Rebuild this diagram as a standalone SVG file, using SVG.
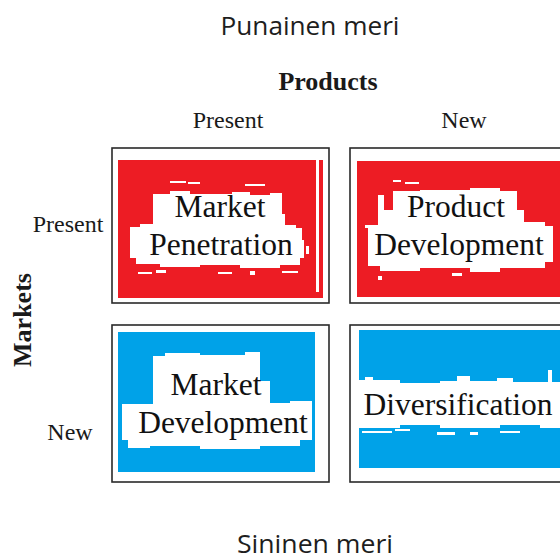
<svg xmlns="http://www.w3.org/2000/svg" width="560" height="560" viewBox="0 0 560 560">
  <style>
    .cap { font-family: "Open Sans", "Noto Sans", sans-serif; font-size: 25px; fill: #1e1e1e; text-anchor: middle; }
    .axis { font-family: "Liberation Serif", "Times New Roman", serif; font-size: 24px; fill: #1a1a1a; text-anchor: middle; }
    .axis-title { font-family: "Liberation Serif", "Times New Roman", serif; font-size: 26px; font-weight: bold; fill: #1a1a1a; text-anchor: middle; }
    .label { font-family: "Liberation Serif", "Times New Roman", serif; font-size: 31.5px; fill: #111; text-anchor: middle; }
    .frame { fill: #ffffff; stroke: #2a2a2a; stroke-width: 1.6; }
    .red { fill: #ed1c24; }
    .blue { fill: #00a2e8; }
    .hole { fill: #ffffff; }
  </style>

  <rect width="560" height="560" fill="#ffffff"/>

  <!-- headings -->
  <text class="cap" x="310" y="35" textLength="179" lengthAdjust="spacingAndGlyphs">Punainen meri</text>
  <text class="cap" x="315" y="553" textLength="156" lengthAdjust="spacingAndGlyphs">Sininen meri</text>

  <!-- axis labels -->
  <text class="axis-title" x="328" y="90">Products</text>
  <text class="axis" x="228" y="128">Present</text>
  <text class="axis" x="464" y="128">New</text>
  <text class="axis" x="68" y="232">Present</text>
  <text class="axis" x="70" y="440">New</text>
  <text class="axis-title" transform="translate(31 320) rotate(-90)">Markets</text>

  <!-- connectors: none in this matrix -->
  <g id="connectors"/>

  <!-- Market Penetration -->
  <g id="market-penetration">
    <rect class="frame" x="112" y="148" width="217" height="155"/>
    <rect class="red" x="118" y="160" width="205" height="138"/>
    <rect class="hole" x="316" y="160" width="3" height="132"/>
    <path class="hole" d="M153 194 L170 194 L170 191 L190 191 L190 194 L232 194 L232 192 L250 192 L250 195 L270 195 L270 193 L282 193 L282 214 L285 214 L285 225 L296 225 L296 228 L302 228 L302 240 L304 240 L304 258 L300 258 L300 265 L280 265 L280 268 L240 268 L240 265 L200 265 L200 267 L160 267 L160 264 L136 264 L136 258 L130 258 L130 227 L140 227 L140 224 L153 224 Z"/>
    <rect class="hole" x="170" y="181" width="16" height="2"/>
    <rect class="hole" x="188" y="182" width="12" height="2"/>
    <rect class="hole" x="245" y="184" width="20" height="2"/>
    <rect class="hole" x="138" y="272" width="14" height="2"/>
    <rect class="hole" x="156" y="270" width="10" height="3"/>
    <rect class="hole" x="218" y="272" width="14" height="2"/>
    <rect class="hole" x="250" y="271" width="5" height="4"/>
    <rect class="hole" x="282" y="271" width="16" height="2"/>
    <rect class="hole" x="306" y="246" width="3" height="8"/>
    <text class="label" x="220" y="217">Market</text>
    <text class="label" x="221" y="255">Penetration</text>
  </g>

  <!-- Product Development -->
  <g id="product-development">
    <rect class="frame" x="350" y="148" width="220" height="155"/>
    <rect class="red" x="357" y="161" width="203" height="136"/>
    <path class="hole" d="M378 195 L384 195 L384 210 L393 210 L393 191 L420 191 L420 190 L470 190 L470 188 L500 188 L500 191 L517 191 L517 210 L524 210 L524 222 L545 222 L545 226 L553 226 L553 262 L545 262 L545 268 L500 268 L500 272 L470 272 L470 268 L420 268 L420 271 L380 271 L380 266 L368 266 L368 228 L365 228 L365 225 L378 225 Z"/>
    <rect class="hole" x="393" y="180" width="8" height="2"/>
    <rect class="hole" x="405" y="182" width="14" height="2"/>
    <rect class="hole" x="378" y="276" width="4" height="4"/>
    <rect class="hole" x="452" y="273" width="10" height="3"/>
    <text class="label" x="456" y="217">Product</text>
    <text class="label" x="459" y="255">Development</text>
  </g>

  <!-- Market Development -->
  <g id="market-development">
    <rect class="frame" x="112" y="325" width="217" height="157"/>
    <rect class="blue" x="118" y="332" width="197" height="140"/>
    <path class="hole" d="M153 356 L165 356 L165 353 L200 353 L200 355 L245 355 L245 352 L260 352 L260 381 L270 381 L270 403 L290 403 L290 401 L312 401 L312 440 L300 440 L300 446 L260 446 L260 449 L200 449 L200 446 L150 446 L150 448 L128 448 L128 440 L122 440 L122 404 L153 404 Z"/>
    <rect class="hole" x="268" y="406" width="8" height="3"/>
    <text class="label" x="216" y="395">Market</text>
    <text class="label" x="223" y="433">Development</text>
  </g>

  <!-- Diversification -->
  <g id="diversification">
    <rect class="frame" x="350" y="325" width="220" height="157"/>
    <rect class="blue" x="359" y="330" width="201" height="138"/>
    <path class="hole" d="M359 380 L365 380 L365 377 L373 377 L373 380 L400 380 L400 383 L440 383 L440 381 L457 381 L457 376 L470 376 L470 381 L497 381 L497 378 L513 378 L513 382 L548 382 L548 370 L552 370 L552 382 L560 382 L560 428 L540 428 L540 425 L500 425 L500 428 L440 428 L440 425 L400 425 L400 428 L359 428 Z"/>
    <rect class="hole" x="362" y="431" width="30" height="2"/>
    <rect class="hole" x="395" y="429" width="15" height="2"/>
    <rect class="hole" x="437" y="432" width="18" height="3"/>
    <rect class="hole" x="470" y="432" width="8" height="3"/>
    <rect class="hole" x="500" y="431" width="20" height="2"/>
    <text class="label" x="458" y="415">Diversification</text>
  </g>
</svg>
